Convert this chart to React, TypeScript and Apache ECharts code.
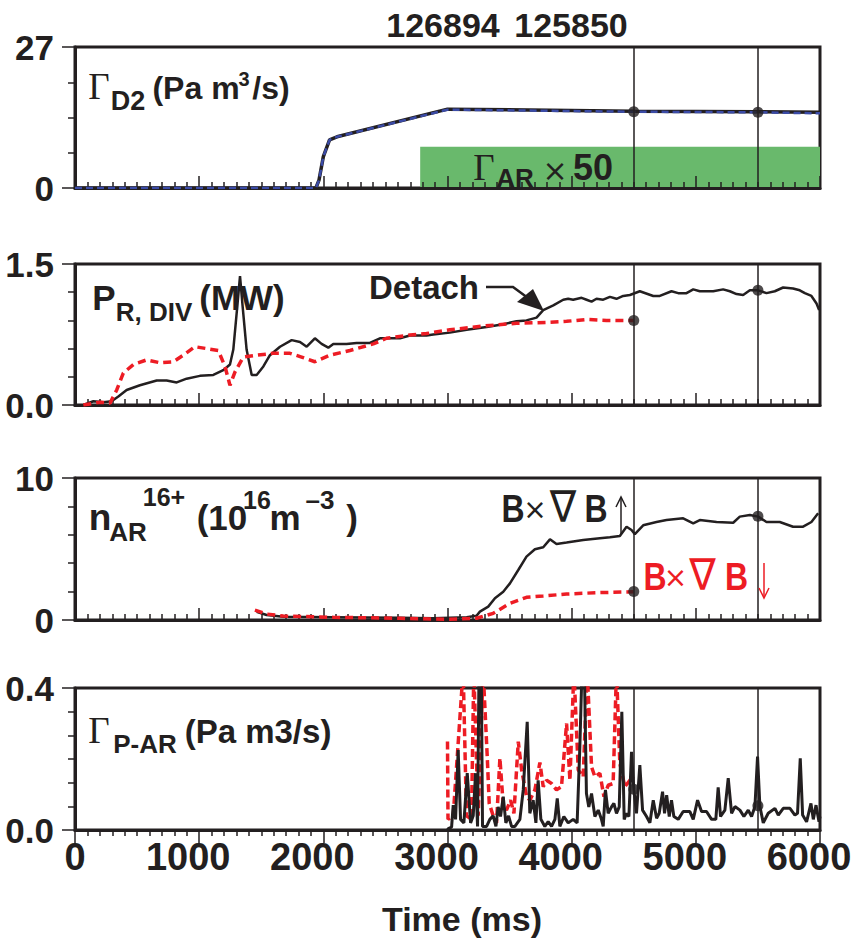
import React, { useEffect, useRef } from "react";
import * as echarts from "echarts";

const INK = "#231f20";
const RED = "#ed1c24";
const BLUE = "#3b4ba6";
const GREEN = "#69b96c";
const SANS = "'Liberation Sans', Arial, Helvetica, sans-serif";
const SERIF = "'Liberation Serif', 'Times New Roman', serif";
const SYMB = "'DejaVu Sans', sans-serif";

// ---------------- data ----------------
const xTickLabels = ["0", "1000", "2000", "3000", "4000", "5000", "6000"];
const yTickLabels = [["0", "27"], ["0.0", "1.5"], ["0", "10"], ["0.0", "0.4"]];
const yMax = [27, 1.5, 10, 0.4];
const yMinorSplits = [4, 5, 5, 6];
const shotLabels = ["126894", "125850"];
const markerTimes = [4500, 5500];

// Panel 1: D2 gas puff (time ms, Pa m3/s)
const d2Solid = [[0, 0], [1940, 0], [1965, 1.5], [2000, 6.0], [2050, 9.2], [2110, 9.8], [3000, 15.1], [4500, 14.7], [5500, 14.6], [6000, 14.5]];
const d2Dashed = [[0, 0], [1940, 0], [1965, 1.5], [2000, 6.0], [2050, 9.2], [2110, 9.8], [3000, 15.0], [4500, 14.6], [5500, 14.5], [6000, 14.3]];
const d2Dots = [[4500, 14.6], [5500, 14.5]];
const arPuff = { start: 2780, end: 6000, level: 7.9 };

// Panel 2: P_R,DIV (MW)
const prBlack = [[67, 0], [148, 0.04], [228, 0.03], [295, 0.04], [349, 0.09], [416, 0.16], [523, 0.21], [658, 0.26], [738, 0.26], [819, 0.24], [899, 0.28], [1006, 0.31], [1114, 0.32], [1194, 0.37], [1248, 0.43], [1275, 0.59], [1307, 1.05], [1329, 1.37], [1350, 1.05], [1382, 0.59], [1423, 0.32], [1463, 0.32], [1517, 0.41], [1570, 0.53], [1651, 0.62], [1745, 0.69], [1812, 0.67], [1866, 0.62], [1932, 0.71], [1986, 0.65], [2040, 0.61], [2080, 0.65], [2187, 0.65], [2268, 0.66], [2375, 0.66], [2456, 0.71], [2617, 0.71], [2697, 0.74], [2831, 0.74], [2885, 0.75], [3019, 0.77], [3154, 0.8], [3315, 0.83], [3449, 0.86], [3556, 0.89], [3636, 0.9], [3717, 0.93], [3771, 1.01], [3852, 1.06], [3932, 1.12], [3972, 1.13], [4012, 1.12], [4080, 1.14], [4120, 1.12], [4160, 1.1], [4200, 1.13], [4254, 1.12], [4308, 1.15], [4361, 1.13], [4415, 1.16], [4469, 1.17], [4549, 1.21], [4657, 1.16], [4710, 1.16], [4804, 1.21], [4858, 1.19], [4925, 1.19], [4979, 1.23], [5032, 1.21], [5140, 1.21], [5220, 1.23], [5274, 1.21], [5328, 1.18], [5381, 1.17], [5435, 1.22], [5502, 1.22], [5569, 1.19], [5636, 1.21], [5703, 1.25], [5783, 1.24], [5837, 1.22], [5878, 1.19], [5931, 1.16], [5972, 1.08], [5993, 1.01]];
const prRed = [[67, 0], [201, 0.03], [282, 0.02], [336, 0.16], [389, 0.34], [470, 0.43], [577, 0.48], [684, 0.45], [792, 0.46], [872, 0.53], [966, 0.62], [1060, 0.6], [1154, 0.58], [1208, 0.41], [1248, 0.21], [1288, 0.35], [1355, 0.51], [1463, 0.53], [1597, 0.55], [1731, 0.55], [1825, 0.51], [1932, 0.46], [2053, 0.53], [2214, 0.58], [2402, 0.65], [2509, 0.71], [2697, 0.745], [2831, 0.76], [3019, 0.8], [3288, 0.84], [3556, 0.87], [3825, 0.88], [3959, 0.89], [4120, 0.91], [4281, 0.9], [4500, 0.9]];
const prDots = [[4500, 0.9], [5500, 1.22]];

// Panel 3: n_AR16+ (1e16 m^-3)
const nArBlack = [[1463, 0.58], [1543, 0.35], [1677, 0.23], [2080, 0.19], [2617, 0.15], [2885, 0.12], [3154, 0.2], [3234, 0.3], [3261, 0.59], [3328, 0.94], [3382, 1.53], [3449, 1.99], [3503, 2.58], [3570, 3.52], [3636, 4.46], [3704, 4.98], [3771, 5.12], [3825, 5.68], [3878, 5.35], [3959, 5.45], [4093, 5.63], [4227, 5.75], [4308, 5.82], [4388, 5.92], [4442, 6.57], [4482, 6.34], [4509, 6.05], [4576, 6.67], [4683, 6.9], [4764, 7.04], [4898, 7.16], [4979, 6.8], [5032, 7.04], [5167, 6.9], [5301, 6.85], [5354, 7.28], [5435, 7.39], [5502, 7.28], [5569, 6.9], [5676, 6.9], [5783, 6.57], [5864, 6.57], [5931, 6.9], [5985, 7.51]];
const nArRed = [[1449, 0.7], [1543, 0.42], [1677, 0.28], [2080, 0.19], [2617, 0.12], [3019, 0.05], [3234, 0.12], [3368, 0.47], [3503, 1.17], [3636, 1.6], [3771, 1.69], [3959, 1.83], [4227, 1.93], [4500, 1.99]];
const nArDots = [[4500, 2.0], [5500, 7.3]];

// Panel 4: Γ_P-AR (Pa m3/s)
const pArBlack = [[3000, 0], [3006, 0.004], [3033, 0.008], [3046, 0.07], [3065, 0.03], [3086, 0.225], [3105, 0.03], [3132, 0.02], [3159, 0.16], [3186, 0.02], [3207, 0.04], [3226, 0.16], [3242, 0.01], [3255, 0.5], [3271, 0.5], [3282, 0.01], [3315, 0.01], [3341, 0.03], [3368, 0.04], [3390, 0.01], [3408, 0.065], [3427, 0.038], [3449, 0.094], [3470, 0.02], [3492, 0.04], [3516, 0.01], [3543, 0.01], [3583, 0.03], [3610, 0.113], [3642, 0.305], [3663, 0.047], [3690, 0.084], [3712, 0.02], [3730, 0.14], [3752, 0.03], [3784, 0.01], [3811, 0.024], [3838, 0.01], [3865, 0.03], [3884, 0.089], [3905, 0.01], [3937, 0.038], [3972, 0.02], [4012, 0.03], [4044, 0.02], [4066, 0.235], [4087, 0.5], [4100, 0.5], [4119, 0.103], [4138, 0.065], [4160, 0.103], [4187, 0.038], [4214, 0.056], [4240, 0.03], [4254, 0.01], [4272, 0.113], [4294, 0.047], [4321, 0.065], [4340, 0.075], [4361, 0.047], [4383, 0.065], [4404, 0.333], [4423, 0.03], [4442, 0.047], [4461, 0.038], [4482, 0.22], [4501, 0.113], [4522, 0.047], [4549, 0.183], [4571, 0.056], [4603, 0.038], [4630, 0.02], [4657, 0.084], [4684, 0.033], [4705, 0.047], [4732, 0.108], [4748, 0.047], [4765, 0.098], [4786, 0.038], [4804, 0.084], [4823, 0.038], [4858, 0.03], [4898, 0.052], [4952, 0.052], [4979, 0.03], [5014, 0.084], [5046, 0.052], [5086, 0.052], [5127, 0.03], [5161, 0.03], [5180, 0.12], [5199, 0.038], [5234, 0.056], [5261, 0.146], [5288, 0.047], [5315, 0.066], [5355, 0.056], [5387, 0.038], [5422, 0.056], [5449, 0.038], [5476, 0.066], [5497, 0.207], [5516, 0.066], [5543, 0.02], [5583, 0.047], [5637, 0.061], [5664, 0.042], [5704, 0.061], [5758, 0.061], [5798, 0.042], [5819, 0.047], [5841, 0.202], [5860, 0.042], [5892, 0.023], [5927, 0.075], [5946, 0.03], [5968, 0.07], [5992, 0.023], [6000, 0.038]];
const pArRed = [[3000, 0.249], [3004, 0.03], [3046, 0.04], [3126, 0.45], [3153, 0.04], [3193, 0.03], [3212, 0.45], [3247, 0.04], [3287, 0.45], [3320, 0.207], [3336, 0.075], [3368, 0.04], [3395, 0.02], [3422, 0.202], [3449, 0.07], [3475, 0.056], [3508, 0.084], [3535, 0.047], [3570, 0.249], [3597, 0.169], [3637, 0.094], [3663, 0.084], [3704, 0.113], [3744, 0.19], [3771, 0.122], [3798, 0.14], [3838, 0.131], [3878, 0.113], [3918, 0.122], [3959, 0.3], [3986, 0.14], [4018, 0.45], [4053, 0.169], [4093, 0.15], [4125, 0.45], [4160, 0.178], [4187, 0.15], [4227, 0.16], [4260, 0.094], [4294, 0.126], [4334, 0.131], [4361, 0.45], [4388, 0.188], [4428, 0.122], [4469, 0.14], [4500, 0.15]];
const pArDots = [[4500, 0.115], [5500, 0.068]];

// ---------------- helpers ----------------
type Piece = { t: string; cx: number; base: number; fs: number; fam?: string; bold?: boolean; color?: string; mid?: boolean; sx?: number };

function textEl(p: Piece) {
  const fam = p.fam ?? SANS;
  const k = fam === SERIF ? 0.3375 : 0.3465;
  const y = p.mid ? p.base : p.base - k * p.fs;
  return {
    type: "text",
    x: p.cx,
    y,
    scaleX: p.sx ?? 1,
    silent: true,
    z: 100,
    style: {
      text: p.t,
      fill: p.color ?? INK,
      fontSize: p.fs,
      fontFamily: fam,
      fontWeight: p.bold === false ? "normal" : "bold",
      align: "center",
      verticalAlign: "middle",
      textAlign: "center",
      textVerticalAlign: "middle",
    },
  };
}

const gridTops = [47, 264, 478, 688];
const gridHeights = [141, 141, 142, 142];

function buildOption() {
  const grid = gridTops.map((top, i) => ({
    left: 75,
    right: 36,
    top,
    height: gridHeights[i],
    show: true,
    borderColor: INK,
    borderWidth: 3,
    backgroundColor: "transparent",
  }));

  const xAxis = gridTops.map((_, i) => ({
    type: "value",
    gridIndex: i,
    min: 0,
    max: 6000,
    interval: 1000,
    z: 3,
    axisLine: { show: true, onZero: false, lineStyle: { color: INK, width: 3 } },
    axisTick: { show: true, inside: i < 3, length: i < 3 ? 12 : 13, lineStyle: { color: INK, width: 1.5 } },
    minorTick: { show: true, splitNumber: 10, length: 6, lineStyle: { color: INK, width: 1.5 } },
    splitLine: { show: false },
    minorSplitLine: { show: false },
    axisLabel: {
      show: i === 3,
      margin: 8,
      formatter: (v: number) => {
        const s = xTickLabels[Math.round(v / 1000)] ?? String(v);
        return v === 0 ? `{z|${s}}` : `{n|${s}}`;
      },
      rich: {
        z: { fontSize: 38, fontWeight: "bold", fontFamily: SANS, color: INK },
        n: { fontSize: 38, fontWeight: "bold", fontFamily: SANS, color: INK, padding: [0, 22, 0, 0] },
      },
    },
  }));

  const yAxis = gridTops.map((_, i) => ({
    type: "value",
    gridIndex: i,
    min: 0,
    max: yMax[i],
    interval: yMax[i],
    z: 3,
    axisLine: { show: true, onZero: false, lineStyle: { color: INK, width: 3 } },
    axisTick: { show: true, inside: false, length: 13, lineStyle: { color: INK, width: 1.5 } },
    minorTick: { show: true, splitNumber: yMinorSplits[i], length: 7, lineStyle: { color: INK, width: 1.5 } },
    splitLine: { show: false },
    minorSplitLine: { show: false },
    axisLabel: {
      margin: 21,
      fontSize: 35,
      fontWeight: "bold",
      fontFamily: SANS,
      color: INK,
      formatter: (v: number) => (v === 0 ? yTickLabels[i][0] : yTickLabels[i][1]),
    },
  }));

  const markLine = {
    silent: true,
    symbol: ["none", "none"],
    label: { show: false },
    lineStyle: { color: INK, width: 1.5, type: "solid" },
    data: markerTimes.map((t) => ({ xAxis: t })),
  };

  const solid = (name: string, data: number[][], i: number, z: number, extra: any = {}) => ({
    name,
    type: "line",
    xAxisIndex: i,
    yAxisIndex: i,
    data,
    symbol: "none",
    z,
    lineStyle: { color: INK, width: 2.5 },
    ...extra,
  });
  const dashed = (name: string, data: number[][], i: number, z: number, color: string, width: number, dash: number[]) => ({
    name,
    type: "line",
    xAxisIndex: i,
    yAxisIndex: i,
    data,
    symbol: "none",
    z,
    lineStyle: { color, width, type: dash },
  });
  const dots = (name: string, data: number[][], i: number) => ({
    name,
    type: "scatter",
    xAxisIndex: i,
    yAxisIndex: i,
    data,
    symbolSize: 11,
    z: 6,
    itemStyle: { color: INK },
  });

  const series: any[] = [
    solid("D2 puff 126894", d2Solid, 0, 3, {
      lineStyle: { color: INK, width: 3.5 },
      markLine,
      markArea: {
        silent: true,
        itemStyle: { color: GREEN },
        data: [[{ coord: [arPuff.start, 0] }, { coord: [arPuff.end, arPuff.level] }]],
      },
    }),
    dashed("D2 puff 125850", d2Dashed, 0, 4, BLUE, 2.5, [7, 4]),
    dots("D2 marks", d2Dots, 0),

    solid("PR,DIV B×∇B↑", prBlack, 1, 3, { markLine }),
    dashed("PR,DIV B×∇B↓", prRed, 1, 4, RED, 3.5, [8, 5]),
    dots("PR marks", prDots, 1),

    solid("nAR B×∇B↑", nArBlack, 2, 3, { markLine }),
    dashed("nAR B×∇B↓", nArRed, 2, 4, RED, 3.5, [8, 5]),
    dots("nAR marks", nArDots, 2),

    dashed("P-AR B×∇B↓", pArRed, 3, 2, RED, 3.5, [8, 4]),
    solid("P-AR B×∇B↑", pArBlack, 3, 3, { markLine, lineStyle: { color: INK, width: 3 } }),
    dots("P-AR marks", pArDots, 3),
  ];

  const pieces: Piece[] = [
    // shot numbers
    { t: shotLabels[0], cx: 443, base: 37, fs: 34 },
    { t: shotLabels[1], cx: 571, base: 37, fs: 34 },
    // panel 1 label
    { t: "Γ", cx: 99, base: 99, fs: 37, fam: SERIF, bold: false },
    { t: "D2", cx: 128, base: 110, fs: 27 },
    { t: "(Pa m", cx: 196, base: 99, fs: 32 },
    { t: "3", cx: 244, base: 86, fs: 20 },
    { t: "/s)", cx: 271, base: 99, fs: 32 },
    // green label
    { t: "Γ", cx: 484, base: 180, fs: 37, fam: SERIF, bold: false },
    { t: "AR", cx: 515, base: 187, fs: 26 },
    { t: "×", cx: 555, base: 170, fs: 30, fam: SYMB, bold: false, mid: true },
    { t: "50", cx: 593, base: 180, fs: 36 },
    // panel 2 label
    { t: "P", cx: 104, base: 310, fs: 35 },
    { t: "R, DIV", cx: 154, base: 321, fs: 26 },
    { t: "(MW)", cx: 242, base: 310, fs: 35 },
    { t: "Detach", cx: 424, base: 299, fs: 33 },
    // panel 3 label
    { t: "n", cx: 100, base: 530, fs: 37 },
    { t: "AR", cx: 128, base: 541, fs: 26 },
    { t: "16+", cx: 164, base: 506, fs: 25 },
    { t: "(10", cx: 222, base: 530, fs: 35 },
    { t: "16", cx: 257, base: 509, fs: 25 },
    { t: "m", cx: 285, base: 530, fs: 35 },
    { t: "–3", cx: 320, base: 509, fs: 26 },
    { t: ")", cx: 352, base: 530, fs: 35 },
    // B x grad B labels
    { t: "B", cx: 513, base: 522, fs: 39, sx: 0.82 },
    { t: "×", cx: 535, base: 509, fs: 28, fam: SYMB, bold: false, mid: true },
    { t: "∇", cx: 563, base: 507, fs: 44, fam: SYMB, bold: false, mid: true, sx: 0.9 },
    { t: "B", cx: 596, base: 522, fs: 39, sx: 0.82 },
    { t: "B", cx: 655, base: 590, fs: 39, color: RED, sx: 0.82 },
    { t: "×", cx: 675.5, base: 577, fs: 28, fam: SYMB, bold: false, mid: true, color: RED },
    { t: "∇", cx: 702.5, base: 575, fs: 44, fam: SYMB, bold: false, mid: true, color: RED, sx: 0.9 },
    { t: "B", cx: 736.5, base: 590, fs: 39, color: RED, sx: 0.82 },
    // panel 4 label
    { t: "Γ", cx: 99, base: 743, fs: 37, fam: SERIF, bold: false },
    { t: "P-AR", cx: 145, base: 753, fs: 26 },
    { t: "(Pa m3/s)", cx: 258, base: 743, fs: 33 },
    // axis title
    { t: "Time (ms)", cx: 462, base: 931, fs: 34 },
  ];

  const graphic: any[] = pieces.map(textEl);
  graphic.push(
    { type: "polyline", silent: true, z: 100, shape: { points: [[486, 287], [513, 287], [528, 298]] }, style: { stroke: INK, lineWidth: 2.5, fill: null } },
    { type: "polygon", silent: true, z: 100, shape: { points: [[544, 311], [517, 302], [533, 289]] }, style: { fill: INK } },
    { type: "line", silent: true, z: 100, shape: { x1: 621, y1: 535, x2: 621, y2: 498 }, style: { stroke: INK, lineWidth: 1.5 } },
    { type: "polyline", silent: true, z: 100, shape: { points: [[616, 507], [621, 497], [626, 507]] }, style: { stroke: INK, lineWidth: 1.5, fill: null } },
    { type: "line", silent: true, z: 100, shape: { x1: 764, y1: 563, x2: 764, y2: 597 }, style: { stroke: RED, lineWidth: 1.5 } },
    { type: "polyline", silent: true, z: 100, shape: { points: [[759, 588], [764, 598], [769, 588]] }, style: { stroke: RED, lineWidth: 1.5, fill: null } }
  );

  return {
    animation: false,
    backgroundColor: "#ffffff",
    textStyle: { fontFamily: SANS },
    grid,
    xAxis,
    yAxis,
    series,
    graphic,
  };
}

export default function App() {
  const ref = useRef<HTMLDivElement>(null);
  useEffect(() => {
    document.body.style.margin = "0";
    if (!ref.current) return;
    const chart = echarts.init(ref.current, null, { renderer: "svg" });
    chart.setOption(buildOption() as any);
    return () => chart.dispose();
  }, []);
  return <div ref={ref} style={{ width: 856, height: 940 }} />;
}
